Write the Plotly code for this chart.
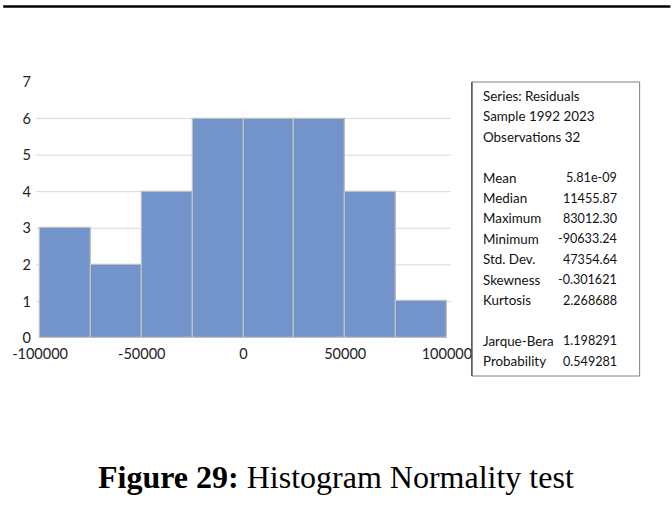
import plotly.graph_objects as go

# Histogram of residuals: bin edges and counts per bin
bin_edges = [-100000, -75000, -50000, -25000, 0, 25000, 50000, 75000, 100000]
counts = [3, 2, 4, 6, 6, 6, 4, 1]

x_tick_vals = [-100000, -50000, 0, 50000, 100000]
x_tick_text = ["-100000", "-50000", "0", "50000", "100000"]
y_tick_vals = [0, 1, 2, 3, 4, 5, 6, 7]
grid_levels = [1, 2, 3, 4, 5, 6]

# Descriptive statistics panel
stat_labels = ["Series: Residuals", "Sample 1992 2023", "Observations 32", "",
               "Mean", "Median", "Maximum", "Minimum", "Std. Dev.", "Skewness",
               "Kurtosis", "", "Jarque-Bera", "Probability"]
stat_values = ["", "", "", "",
               "5.81e-09", "11455.87", "83012.30", "-90633.24", "47354.64",
               "-0.301621", "2.268688", "", "1.198291", "0.549281"]

caption_bold = "Figure 29:"
caption_text = "Histogram Normality test"

W, H = 672, 524
ML, MR, MT, MB = 33, 221, 82, 186
PW, PH = W - ML - MR, H - MT - MB


def px_x(px):
    return (px - ML) / PW


def px_y(py):
    return (H - MB - py) / PH


centers = [(a + b) / 2 for a, b in zip(bin_edges[:-1], bin_edges[1:])]
widths = [b - a for a, b in zip(bin_edges[:-1], bin_edges[1:])]

fig = go.Figure()
fig.add_trace(go.Bar(
    x=centers, y=counts, width=widths,
    marker=dict(color="#7294CB", line=dict(color="#BFBFBF", width=1.3)),
    hoverinfo="skip",
))

shapes = []
for g in grid_levels:
    shapes.append(dict(type="line", xref="paper", yref="y", x0=0, x1=1, y0=g, y1=g,
                       line=dict(color="#D9D9D9", width=1), layer="below"))

# rule across the top of the page
shapes.append(dict(type="line", xref="paper", yref="paper",
                   x0=px_x(0), x1=px_x(W), y0=px_y(6.5), y1=px_y(6.5),
                   line=dict(color="#000000", width=2.5)))

# statistics box
bx0, bx1, by0, by1 = 472, 641, 82, 376
shapes.append(dict(type="rect", xref="paper", yref="paper",
                   x0=px_x(bx0), x1=px_x(bx1), y0=px_y(by1), y1=px_y(by0),
                   line=dict(color="#808080", width=1), fillcolor="rgba(0,0,0,0)"))
shapes.append(dict(type="line", xref="paper", yref="paper",
                   x0=px_x(bx0), x1=px_x(bx0), y0=px_y(by1), y1=px_y(by0),
                   line=dict(color="#555555", width=1.5)))

annotations = []
row0, step = 96.0, 20.4
for i, (lab, val) in enumerate(zip(stat_labels, stat_values)):
    yy = px_y(row0 + step * i)
    if lab:
        annotations.append(dict(xref="paper", yref="paper", x=px_x(481), y=yy,
                                text=lab, showarrow=False, xanchor="left", yanchor="middle",
                                font=dict(family="Lato", size=13.4, color="#111111")))
    if val:
        annotations.append(dict(xref="paper", yref="paper", x=px_x(620), y=yy,
                                text=val, showarrow=False, xanchor="right", yanchor="middle",
                                font=dict(family="Lato", size=12.6, color="#111111")))

annotations.append(dict(xref="paper", yref="paper", x=px_x(W / 2 - 1), y=px_y(477),
                        text=f"<b>{caption_bold}</b> {caption_text}", showarrow=False,
                        xanchor="center", yanchor="middle",
                        font=dict(family="Liberation Serif", size=32, color="#000000")))

fig.update_layout(
    width=W, height=H,
    margin=dict(l=ML, r=MR, t=MT, b=MB, pad=0),
    paper_bgcolor="white", plot_bgcolor="white",
    showlegend=False, bargap=0,
    shapes=shapes, annotations=annotations,
    font=dict(family="Lato", size=14, color="#222222"),
    xaxis=dict(range=[-102000, 102000], tickvals=x_tick_vals, ticktext=x_tick_text,
               showgrid=False, zeroline=False, showline=False, ticks="",
               ticklabelstandoff=5, tickfont=dict(size=14.5)),
    yaxis=dict(range=[0, 7], tickvals=y_tick_vals, showgrid=False, zeroline=False,
               showline=False, ticks="", ticklabelstandoff=4, tickfont=dict(size=14.5)),
)

fig.write_html("out.html")
